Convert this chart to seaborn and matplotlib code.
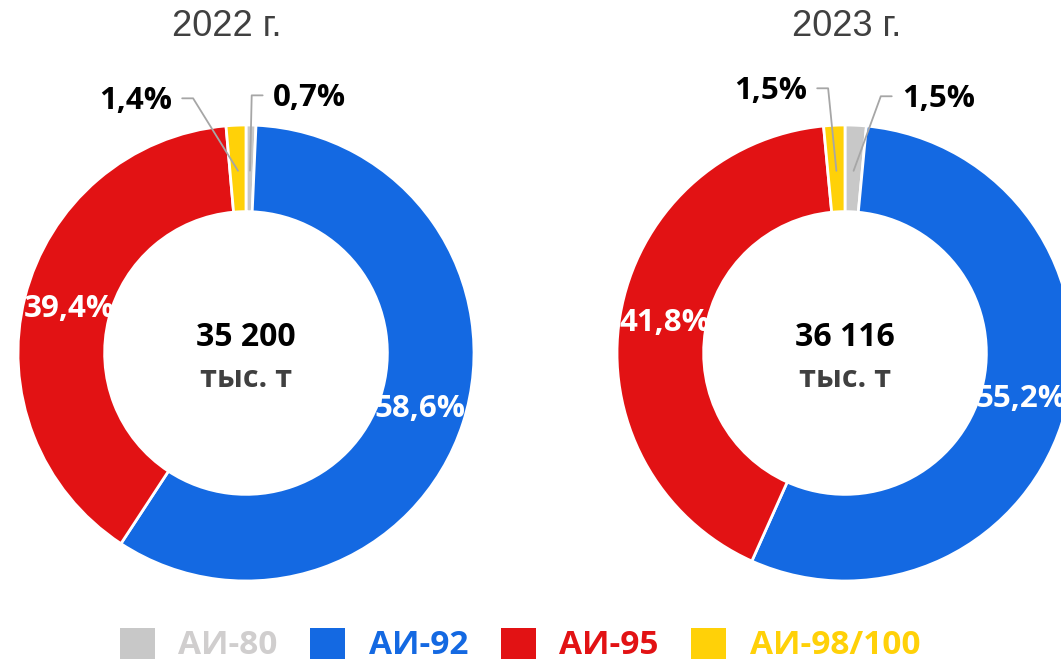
import numpy as np
import matplotlib.pyplot as plt
import seaborn as sns
from matplotlib.patches import Patch

# === данные ===
grades = ["АИ-80", "АИ-92", "АИ-95", "АИ-98/100"]
years = ["2022 г.", "2023 г."]
totals = ["35 200", "36 116"]
shares_2022 = [0.7, 58.6, 39.4, 1.4]
shares_2023 = [1.5, 55.2, 41.8, 1.5]
labels_2022 = ["0,7%", "58,6%", "39,4%", "1,4%"]
labels_2023 = ["1,5%", "55,2%", "41,8%", "1,5%"]

colors = ["#C8C8C8", "#1469E2", "#E21214", "#FFD108"]
legend_colors = ["#D0CECE", "#1469E2", "#E21214", "#FFD108"]

sns.set_theme(style="white")
plt.rcParams["font.family"] = ["Open Sans", "DejaVu Sans"]

W, H = 1061, 664
fig = plt.figure(figsize=(W / 100, H / 100), dpi=100)

R = 228  # радиус кольца в пикселях
charts = [
    dict(center=(246, 353), title_x=227, shares=shares_2022, labels=labels_2022, total=totals[0],
         # (индекс, край текста x, y, выравнивание)
         outside=[(3, -0.325, 1.105, "right"), (0, 0.118, 1.118, "left")]),
    dict(center=(845, 353), title_x=847, shares=shares_2023, labels=labels_2023, total=totals[1],
         outside=[(3, -0.167, 1.149, "right"), (0, 0.250, 1.114, "left")]),
]

for year, ch in zip(years, charts):
    cx, cy = ch["center"]
    ax = fig.add_axes([(cx - R) / W, (H - cy - R) / H, 2 * R / W, 2 * R / H])
    wedges, _ = ax.pie(ch["shares"], colors=colors, startangle=90, counterclock=False, radius=1,
                       wedgeprops=dict(width=0.38, edgecolor="white", linewidth=2))
    ax.set_xlim(-1, 1)
    ax.set_ylim(-1, 1)
    ax.axis("off")

    mids = [np.deg2rad((w.theta1 + w.theta2) / 2) for w in wedges]

    # крупные доли внутри кольца
    for i in (1, 2):
        ax.text(0.8 * np.cos(mids[i]), 0.8 * np.sin(mids[i]), ch["labels"][i], color="white",
                fontsize=22.5, fontweight="bold", ha="center", va="center")

    # маленькие доли снаружи с выносками
    for i, ex, ey, ha in ch["outside"]:
        ax.text(ex, ey, ch["labels"][i], color="black", fontsize=22.5, fontweight="bold",
                ha=ha, va="center")
        sign = 1 if ha == "right" else -1
        x0 = ex + sign * 0.045
        x1 = x0 + sign * 0.048
        ly = ey + 0.012
        ax.plot([x0, x1, 0.8 * np.cos(mids[i])], [ly, ly, 0.8 * np.sin(mids[i])],
                color="#A6A6A6", lw=1.3, clip_on=False)

    # центр
    ax.text(0, 0.066, ch["total"], color="black", fontsize=23, fontweight="bold",
            ha="center", va="center")
    ax.text(0, -0.114, "тыс. т", color="#404040", fontsize=22, fontweight="bold",
            ha="center", va="center")

    fig.text(ch["title_x"] / W, 1 - 27 / H, year, fontsize=26, color="#404040",
             family=["Liberation Sans", "DejaVu Sans"], ha="center", va="center")

handles = [Patch(facecolor=c, edgecolor="none") for c in colors]
fig.legend(handles, grades, loc="center", bbox_to_anchor=(520 / W, 19 / H), ncol=4,
           frameon=False, prop=dict(size=24, weight="bold"), labelcolor=legend_colors,
           handlelength=1.05, handleheight=1.05, handletextpad=0.7, columnspacing=0.98,
           borderaxespad=0, borderpad=0)

plt.savefig("out.png", dpi=100)
plt.close()
